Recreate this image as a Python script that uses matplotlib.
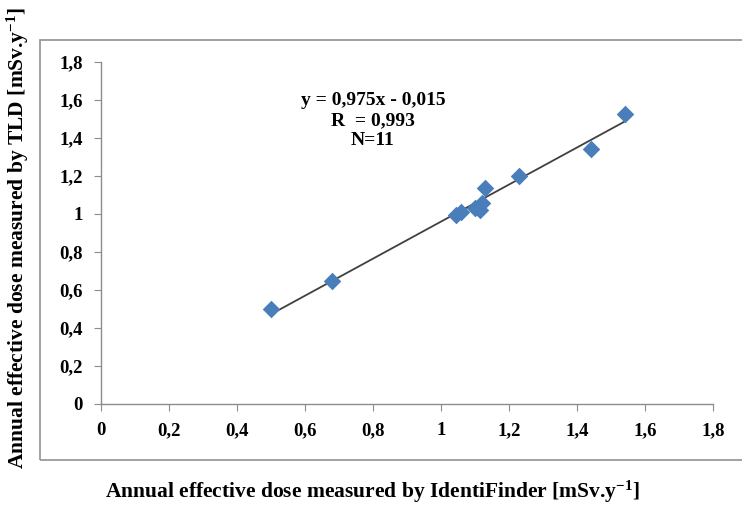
import matplotlib
matplotlib.use("Agg")
import matplotlib.pyplot as plt
from matplotlib.patches import Rectangle
import numpy as np

identifinder = [0.50, 0.68, 1.045, 1.06, 1.10, 1.115, 1.12, 1.13, 1.23, 1.44, 1.54]
tld = [0.50, 0.645, 0.995, 1.01, 1.03, 1.02, 1.06, 1.135, 1.20, 1.34, 1.525]
slope = 0.975
intercept = -0.015
ticks = [0, 0.2, 0.4, 0.6, 0.8, 1.0, 1.2, 1.4, 1.6, 1.8]
tick_labels = ["0", "0,2", "0,4", "0,6", "0,8", "1", "1,2", "1,4", "1,6", "1,8"]

plt.rcParams['font.family'] = ['Liberation Serif', 'DejaVu Serif']
plt.rcParams['font.weight'] = 'bold'
plt.rcParams['mathtext.fontset'] = 'custom'
plt.rcParams['mathtext.rm'] = 'Liberation Serif:bold'
plt.rcParams['mathtext.bf'] = 'Liberation Serif:bold'
plt.rcParams['mathtext.it'] = 'Liberation Serif:bold'
plt.rcParams['mathtext.default'] = 'bf'

fig = plt.figure(figsize=(7.42, 5.07), dpi=100)
fig.patch.set_facecolor('white')
fig.patches.append(Rectangle((40/742, 1-460/507), 1.2, (460-40)/507,
                             transform=fig.transFigure, fill=False,
                             edgecolor='#9a9a9a', linewidth=1.3))

ax = fig.add_axes([101/742, 1-404/507, (713-101)/742, (404-62)/507])
ax.set_xlim(0, 1.8)
ax.set_ylim(0, 1.8)
for s in ['top', 'right']:
    ax.spines[s].set_visible(False)
for s in ['left', 'bottom']:
    ax.spines[s].set_color('#8c8c8c')
    ax.spines[s].set_linewidth(1.0)
ax.set_xticks(ticks)
ax.set_xticklabels(tick_labels)
ax.set_yticks(ticks)
ax.set_yticklabels(tick_labels)
ax.tick_params(axis='both', direction='out', length=5, color='#8c8c8c',
               labelsize=13.5, pad=8)
for lab in ax.get_xticklabels() + ax.get_yticklabels():
    lab.set_fontweight('bold')

xs = np.array([min(identifinder), max(identifinder)])
ax.plot(xs, slope * xs + intercept, color='#404040', linewidth=1.3, zorder=2)
ax.scatter(identifinder, tld, marker='D', s=80, color='#4a7ebb', zorder=3,
           linewidths=0)

fig.text(373/742, 1-92/507, "y = 0,975x - 0,015\nR  = 0,993\nN=11",
         ha='center', va='top', fontsize=14, fontweight='bold',
         linespacing=1.22)
fig.text(372/742, 1-492/507, "Annual effective dose measured by IdentiFinder [mSv.y$^{-1}$]",
         ha='center', va='center', fontsize=15.5, fontweight='bold')
fig.text(18/742, 1-238/507, "Annual effective dose measured by TLD [mSv.y$^{-1}$]",
         ha='center', va='center', rotation=90, fontsize=15.5, fontweight='bold')

fig.savefig("out.png", dpi=100)
